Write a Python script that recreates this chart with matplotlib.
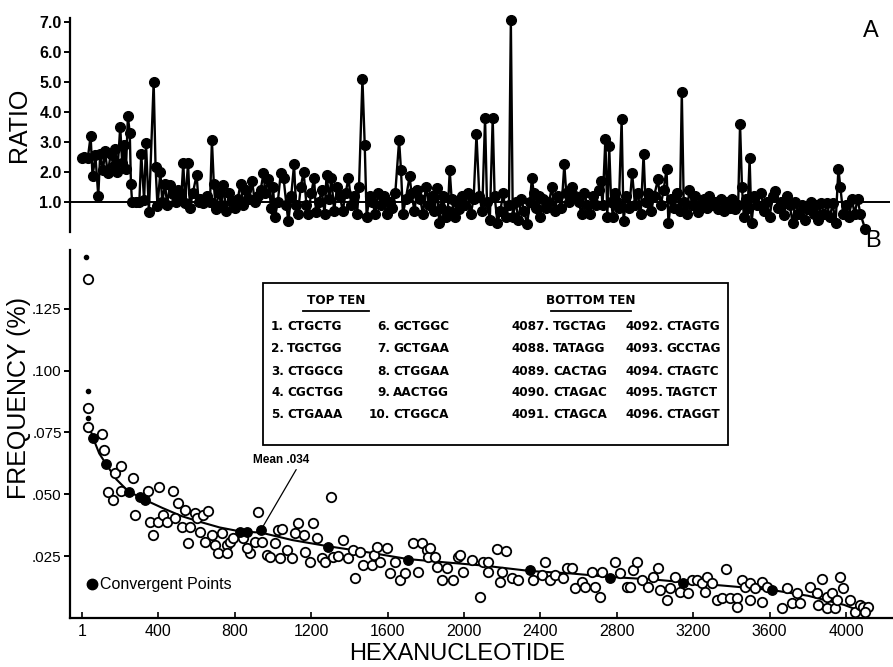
import matplotlib
matplotlib.use("Agg")
import matplotlib.pyplot as plt
from matplotlib.lines import Line2D

# ---- panel A: observed / expected ratio, (rank, ratio)
ratio_pts = [
    (1, 2.45), (10, 2.5), (30, 2.45), (45, 3.2), (55, 1.85), (70, 2.55), (85, 1.2), (95, 2.6),
    (110, 2.05), (120, 2.7), (135, 1.95), (150, 2.6), (165, 2.2), (175, 2.75), (185, 2.0),
    (200, 3.5), (210, 2.3), (220, 2.9), (230, 2.1), (240, 3.85), (250, 3.3), (256, 1.6), (262, 1.0),
    (280, 1.0), (300, 1.0), (310, 2.6), (325, 1.05), (335, 2.95), (350, 0.67), (375, 5.0),
    (385, 2.15), (395, 0.85), (410, 2.0), (420, 1.0),
    (435, 1.6), (445, 0.9), (460, 1.55), (475, 1.25), (490, 1.0), (505, 1.4), (520, 1.2),
    (530, 2.3), (540, 0.95), (555, 2.3), (565, 0.8), (580, 1.3), (600, 1.9), (610, 1.0), (620, 1.1),
    (635, 0.95), (655, 1.2), (670, 1.0), (680, 3.05), (690, 1.6), (700, 0.75), (715, 1.3),
    (730, 0.9), (740, 1.55), (755, 0.7), (770, 1.3), (785, 1.0), (800, 0.8), (815, 1.1), (830, 1.6),
    (845, 0.9), (860, 1.4), (875, 1.1), (890, 1.7), (905, 1.0), (920, 1.2), (935, 1.4), (950, 1.95),
    (960, 1.3), (975, 1.75), (990, 0.8), (1000, 1.5), (1010, 0.5), (1025, 1.0), (1040, 1.95),
    (1055, 1.8), (1070, 0.9), (1080, 0.35), (1095, 1.2), (1110, 2.25), (1120, 0.9), (1130, 0.6),
    (1145, 1.5), (1160, 2.0), (1175, 0.9), (1185, 0.6), (1200, 1.3), (1215, 1.8), (1225, 0.65),
    (1240, 1.0), (1255, 1.4), (1270, 0.6), (1280, 1.9), (1295, 1.1), (1305, 1.8), (1320, 0.7),
    (1335, 1.5), (1350, 1.2), (1365, 0.7), (1380, 1.3), (1395, 1.8), (1410, 0.9), (1425, 1.2),
    (1440, 0.6), (1450, 1.5), (1468, 5.1), (1480, 2.9), (1490, 0.5), (1505, 1.2), (1520, 1.0),
    (1535, 0.6), (1550, 1.3), (1565, 0.9), (1580, 1.2), (1595, 0.6), (1610, 1.0), (1625, 0.8),
    (1640, 1.3), (1660, 3.05), (1670, 2.05), (1680, 0.6), (1695, 1.1), (1715, 1.85), (1725, 1.3),
    (1740, 0.7), (1755, 1.4), (1770, 1.1), (1785, 0.6), (1800, 1.5), (1815, 0.9), (1830, 1.2),
    (1845, 0.7), (1860, 1.45), (1870, 0.3), (1880, 0.8), (1890, 1.2), (1905, 0.5), (1915, 0.7),
    (1925, 2.05), (1935, 1.1), (1950, 0.5), (1965, 1.0), (1975, 0.75), (1990, 1.2), (2005, 0.9),
    (2020, 1.3), (2035, 0.6), (2050, 1.1), (2065, 3.25), (2080, 1.2), (2095, 0.7), (2110, 3.8),
    (2120, 1.0), (2135, 0.4), (2150, 3.8), (2160, 1.2), (2175, 0.3), (2190, 0.7), (2205, 1.3),
    (2220, 0.5), (2235, 0.9), (2245, 7.05), (2255, 0.5), (2270, 1.0), (2285, 0.4), (2300, 1.1),
    (2315, 0.7), (2330, 0.25), (2345, 1.0), (2355, 1.8), (2365, 1.3), (2375, 0.8), (2390, 1.2),
    (2400, 0.5), (2415, 1.1), (2430, 0.8), (2445, 1.0), (2460, 1.5), (2475, 0.7), (2490, 1.2),
    (2510, 0.8), (2525, 2.25), (2535, 1.3), (2550, 1.0), (2565, 1.5), (2580, 1.2), (2600, 1.0),
    (2615, 0.6), (2630, 1.3), (2645, 0.9), (2660, 0.6), (2675, 1.2), (2690, 0.9), (2705, 1.4),
    (2715, 1.7), (2725, 0.9), (2740, 3.1), (2750, 0.5), (2760, 2.85), (2770, 1.0), (2780, 0.5),
    (2790, 1.3), (2800, 1.0), (2810, 0.8), (2825, 3.75), (2835, 0.35), (2850, 1.2), (2865, 0.8),
    (2880, 1.95), (2895, 0.9), (2910, 1.3), (2925, 0.6), (2940, 2.6), (2950, 1.0), (2965, 1.3),
    (2980, 0.7), (2995, 1.2), (3015, 1.75), (3030, 0.9), (3045, 1.4), (3060, 2.1), (3070, 0.3),
    (3085, 1.1), (3100, 0.8), (3115, 1.3), (3130, 0.7), (3140, 4.65), (3150, 1.0), (3165, 0.6),
    (3180, 1.4), (3195, 0.9), (3210, 1.2), (3225, 0.65), (3240, 0.9), (3255, 1.1), (3270, 0.8),
    (3285, 1.2), (3300, 0.9), (3315, 1.0), (3330, 0.75), (3345, 1.1), (3360, 0.7), (3375, 1.0),
    (3390, 0.8), (3405, 1.1), (3420, 0.75), (3435, 0.9), (3445, 3.6), (3455, 1.5), (3465, 0.5),
    (3475, 1.1), (3485, 0.8), (3495, 2.45), (3505, 0.3), (3520, 1.2), (3535, 0.9), (3555, 1.3),
    (3570, 0.7), (3585, 1.0), (3600, 0.5), (3615, 1.2), (3630, 1.35), (3645, 0.8), (3660, 1.0),
    (3675, 0.55), (3690, 1.2), (3705, 0.9), (3720, 0.3), (3735, 1.0), (3750, 0.6), (3770, 0.9),
    (3785, 0.4), (3800, 0.75), (3815, 1.0), (3830, 0.6), (3845, 0.9), (3855, 0.4), (3870, 0.95),
    (3885, 0.6), (3900, 0.95), (3915, 0.5), (3930, 0.95), (3945, 0.3), (3960, 2.1), (3970, 1.5),
    (3985, 0.6), (4000, 0.9), (4015, 0.5), (4030, 1.1), (4045, 0.6), (4060, 1.1), (4075, 0.6),
    (4100, 0.1),
]

# ---- panel B: frequency (%) of sampled hexanucleotides, (rank, freq)
open_pts = [
    (31, 0.1370), (31, 0.0848), (31, 0.0770), (105, 0.0745), (115, 0.0677), (173, 0.0586),
    (204, 0.0614), (267, 0.0566), (136, 0.0509), (162, 0.0477), (204, 0.0513), (277, 0.0416),
    (346, 0.0513), (356, 0.0388), (372, 0.0335), (403, 0.0529), (398, 0.0388), (424, 0.0416),
    (445, 0.0388), (476, 0.0513), (487, 0.0404), (503, 0.0465), (524, 0.0368), (539, 0.0436),
    (555, 0.0303), (565, 0.0368), (592, 0.0424), (600, 0.0404), (618, 0.0347), (633, 0.0416),
    (644, 0.0307), (660, 0.0432), (681, 0.0335), (696, 0.0295), (712, 0.0263), (733, 0.0343),
    (759, 0.0295), (759, 0.0263), (775, 0.0307), (790, 0.0323), (843, 0.0323), (880, 0.0263),
    (864, 0.0283), (921, 0.0430), (906, 0.0307), (942, 0.0307), (968, 0.0255), (984, 0.0246),
    (1010, 0.0303), (1026, 0.0356), (1047, 0.0360), (1037, 0.0242), (1073, 0.0275), (1099, 0.0242),
    (1115, 0.0343), (1131, 0.0384), (1162, 0.0335), (1167, 0.0267), (1194, 0.0226), (1209, 0.0384),
    (1230, 0.0323), (1256, 0.0242), (1272, 0.0226), (1304, 0.0489), (1314, 0.0246), (1340, 0.0250),
    (1366, 0.0315), (1393, 0.0242), (1419, 0.0275), (1429, 0.0162), (1455, 0.0267), (1471, 0.0214),
    (1518, 0.0214), (1530, 0.0255), (1544, 0.0287), (1560, 0.0226), (1597, 0.0283), (1612, 0.0182),
    (1639, 0.0226), (1665, 0.0154), (1691, 0.0182), (1733, 0.0303), (1759, 0.0186), (1780, 0.0303),
    (1806, 0.0275), (1811, 0.0246), (1822, 0.0283), (1848, 0.0246), (1858, 0.0206), (1885, 0.0154),
    (1911, 0.0202), (1942, 0.0154), (1968, 0.0246), (1979, 0.0255), (1995, 0.0186), (2042, 0.0234),
    (2084, 0.0085), (2099, 0.0226), (2125, 0.0226), (2125, 0.0186), (2173, 0.0279), (2188, 0.0145),
    (2199, 0.0186), (2220, 0.0271), (2251, 0.0162), (2282, 0.0154), (2361, 0.0154), (2408, 0.0174),
    (2424, 0.0226), (2450, 0.0154), (2476, 0.0174), (2518, 0.0162), (2539, 0.0202), (2565, 0.0202),
    (2581, 0.0121), (2618, 0.0145), (2633, 0.0125), (2670, 0.0186), (2686, 0.0125), (2712, 0.0085),
    (2722, 0.0186), (2790, 0.0226), (2817, 0.0182), (2853, 0.0125), (2869, 0.0125), (2884, 0.0194),
    (2905, 0.0226), (2932, 0.0154), (2963, 0.0125), (2989, 0.0166), (3015, 0.0202), (3026, 0.0113),
    (3062, 0.0073), (3078, 0.0121), (3104, 0.0166), (3130, 0.0105), (3172, 0.0101), (3193, 0.0154),
    (3219, 0.0154), (3246, 0.0141), (3261, 0.0105), (3272, 0.0166), (3298, 0.0141), (3324, 0.0073),
    (3350, 0.0081), (3371, 0.0198), (3392, 0.0081), (3429, 0.0081), (3429, 0.0044), (3455, 0.0154),
    (3471, 0.0125), (3497, 0.0141), (3497, 0.0073), (3523, 0.0121), (3560, 0.0145), (3560, 0.0065),
    (3586, 0.0125), (3665, 0.0040), (3691, 0.0121), (3717, 0.0061), (3743, 0.0101), (3759, 0.0061),
    (3811, 0.0125), (3848, 0.0101), (3853, 0.0053), (3874, 0.0158), (3900, 0.0085), (3900, 0.0040),
    (3926, 0.0101), (3942, 0.0040), (3952, 0.0073), (3968, 0.0166), (3984, 0.0121), (4021, 0.0073),
    (4047, 0.0024), (4073, 0.0053), (4088, 0.0044), (4115, 0.0044), (4099, 0.0024),
]
conv_pts = [
    (58, 0.0727), (126, 0.0622), (246, 0.0509), (304, 0.0489), (330, 0.0477), (827, 0.0347),
    (864, 0.0347), (937, 0.0356), (1288, 0.0287), (1707, 0.0234), (2345, 0.0194), (2764, 0.0160),
    (3146, 0.0141), (3612, 0.0113),
]
small_dots = [(21, 0.1458), (31, 0.0917), (31, 0.0808)]
curve_rank = [42, 58, 90, 126, 180, 246, 304, 330, 420, 520, 620, 720, 827, 937, 1100, 1288,
              1500, 1707, 1900, 2100, 2345, 2560, 2764, 3000, 3146, 3400, 3612, 3800, 3990, 4090]
curve_freq = [0.0765, 0.0727, 0.0665, 0.0622, 0.0560, 0.0509, 0.0489, 0.0477, 0.0445, 0.0412,
              0.0388, 0.0366, 0.0350, 0.0345, 0.0315, 0.0290, 0.0265, 0.0238, 0.0225, 0.0212,
              0.0190, 0.0180, 0.0166, 0.0155, 0.0145, 0.0128, 0.0113, 0.0090, 0.0053, 0.0024]
mean_rank, mean_freq = 937, 0.0356

top_ten = ["CTGCTG", "TGCTGG", "CTGGCG", "CGCTGG", "CTGAAA",
           "GCTGGC", "GCTGAA", "CTGGAA", "AACTGG", "CTGGCA"]
bottom_ten = ["TGCTAG", "TATAGG", "CACTAG", "CTAGAC", "CTAGCA",
              "CTAGTG", "GCCTAG", "CTAGTC", "TAGTCT", "CTAGGT"]

ratio_ticks = [1, 2, 3, 4, 5, 6, 7]
freq_ticks = [0.025, 0.050, 0.075, 0.100, 0.125]
freq_labels = [".025", ".050", ".075", ".100", ".125"]
rank_ticks = [1, 400, 800, 1200, 1600, 2000, 2400, 2800, 3200, 3600, 4000]

plt.rcParams["font.family"] = ["Liberation Sans", "DejaVu Sans"]

W, H = 893, 667
fig = plt.figure(figsize=(W / 100, H / 100), dpi=100)


def fx(px):
    return px / W


def fy(py):
    return 1 - py / H


ax_a = fig.add_axes([fx(70), fy(232), fx(890) - fx(70), fy(18) - fy(232)])
ax_b = fig.add_axes([fx(70), fy(618), fx(893) - fx(70), fy(250) - fy(618)])

# panel A
ra = [p[0] for p in ratio_pts]
va = [p[1] for p in ratio_pts]
ax_a.axhline(1.0, color="k", lw=1.4, zorder=1)
ax_a.plot(ra, va, "-o", color="k", ms=7, lw=1.7, clip_on=False, zorder=2)
ax_a.set_xlim(-63, 4230)
ax_a.set_ylim(0, 7.13)
ax_a.set_yticks(ratio_ticks)
ax_a.set_yticklabels([f"{t:.1f}" for t in ratio_ticks], fontsize=11.5, fontweight="bold")
ax_a.set_xticks([])
for s in ["top", "right", "bottom"]:
    ax_a.spines[s].set_visible(False)
ax_a.spines["left"].set_linewidth(1.6)
ax_a.tick_params(axis="y", direction="out", length=4, width=1.4, pad=2)

# panel B
ax_b.plot(curve_rank, curve_freq, "k-", lw=1.5, zorder=2)
ax_b.plot([p[0] for p in open_pts], [p[1] for p in open_pts], "o", mfc="white",
          mec="k", ms=6.8, mew=1.3, zorder=3, clip_on=False)
ax_b.plot([p[0] for p in conv_pts], [p[1] for p in conv_pts], "o", color="k",
          ms=6.8, zorder=4)
ax_b.plot([p[0] for p in small_dots], [p[1] for p in small_dots], "o", color="k",
          ms=3, zorder=4)
ax_b.set_xlim(-63, 4246)
ax_b.set_ylim(0, 0.1487)
ax_b.set_yticks(freq_ticks)
ax_b.set_yticklabels(freq_labels, fontsize=11)
ax_b.set_xticks(rank_ticks)
ax_b.set_xticklabels([str(t) for t in rank_ticks], fontsize=11.5)
for s in ["top", "right"]:
    ax_b.spines[s].set_visible(False)
ax_b.spines["left"].set_linewidth(1.6)
ax_b.spines["bottom"].set_linewidth(1.6)
ax_b.tick_params(axis="y", direction="out", length=4, width=1.4, pad=2)
ax_b.tick_params(axis="x", direction="in", length=4, width=1.2, pad=4)

ax_b.annotate("Mean .034", xy=(mean_rank, mean_freq), xytext=(1045, 0.0640),
              ha="center", va="center", fontsize=8.5, fontweight="bold",
              arrowprops=dict(arrowstyle="-", lw=0.9, color="k",
                              shrinkA=1, shrinkB=2, relpos=(0.8, 0)))

handle = Line2D([], [], marker="o", color="k", ls="none", ms=7.5)
ax_b.legend([handle], ["Convergent Points"], loc="center left",
            bbox_to_anchor=(0.02, 0.09), frameon=False, fontsize=11.5,
            handlelength=0.7, handletextpad=0.15, borderpad=0, borderaxespad=0)

# axis titles and panel letters
fig.text(fx(19), fy(125), "RATIO", rotation=90, ha="center", va="center", fontsize=18)
fig.text(fx(19), fy(398), "FREQUENCY (%)", rotation=90, ha="center", va="center", fontsize=18)
fig.text(fx(457), fy(654), "HEXANUCLEOTIDE", ha="center", va="center", fontsize=17)
fig.text(fx(871), fy(31), "A", ha="center", va="center", fontsize=17)
fig.text(fx(873), fy(241), "B", ha="center", va="center", fontsize=17)

# inset table box
box = plt.Rectangle((fx(263), fy(445)), fx(728) - fx(263), fy(283) - fy(445),
                    transform=fig.transFigure, fill=False, lw=1.3, color="k")
fig.add_artist(box)
tfont = dict(family="DejaVu Sans", fontstretch="condensed", fontweight="bold", fontsize=9.6)
fig.text(fx(336), fy(301), "TOP TEN", ha="center", va="center", **tfont)
fig.text(fx(591), fy(301), "BOTTOM TEN", ha="center", va="center", **tfont)
fig.add_artist(Line2D([fx(303), fx(369)], [fy(311), fy(311)], transform=fig.transFigure,
                      color="k", lw=1.3))
fig.add_artist(Line2D([fx(551), fx(631)], [fy(311), fy(311)], transform=fig.transFigure,
                      color="k", lw=1.3))
row_y = [327, 349, 371, 393, 415]
col_dot = [284, 390, 550, 663]
for i in range(5):
    entries = [(i + 1, top_ten[i]), (i + 6, top_ten[i + 5]),
               (4087 + i, bottom_ten[i]), (4092 + i, bottom_ten[i + 5])]
    for (num, seq), xd in zip(entries, col_dot):
        fig.text(fx(xd), fy(row_y[i]), f"{num}.", ha="right", va="center", **tfont)
        fig.text(fx(xd + 3), fy(row_y[i]), seq, ha="left", va="center", **tfont)

fig.savefig("out.png", dpi=100)
